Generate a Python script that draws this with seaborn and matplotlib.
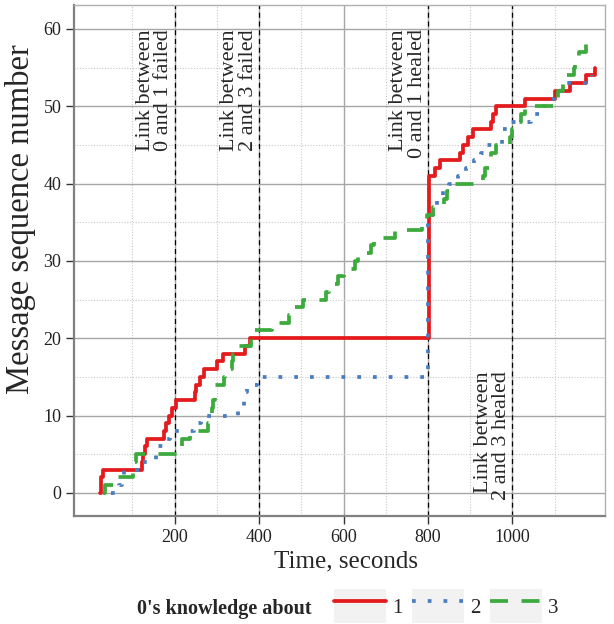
import numpy as np
import pandas as pd
import seaborn as sns
import matplotlib
matplotlib.use("Agg")
import matplotlib.pyplot as plt
from matplotlib.lines import Line2D
from matplotlib.patches import Patch
from matplotlib.ticker import FixedLocator

# ---- data ----
t1 = [24, 26, 30, 122, 125, 130, 134, 176, 180, 186, 193, 203, 248, 250, 260, 270, 300, 315, 367, 379,
      803, 817, 828, 876, 884, 895, 906, 948, 953, 961, 1030, 1100, 1135, 1175, 1195]
s1 = [0, 2, 3, 4, 5, 6, 7, 8, 9, 10, 11, 12, 13, 14, 15, 16, 17, 18, 19, 20,
      41, 42, 43, 44, 45, 46, 47, 48, 49, 50, 51, 52, 53, 54, 55]

t2 = [50, 68, 76, 80, 125, 155, 162, 175, 190, 245, 262, 350, 365, 370, 372, 395,
      799, 812, 822, 835, 850, 870, 890, 908, 925, 940, 975, 978, 990, 1045, 1062, 1080, 1098, 1115, 1188]
s2 = [0, 1, 2, 3, 4, 5, 6, 7, 8, 9, 10, 11, 12, 13, 14, 15,
      36, 37, 38, 39, 40, 41, 42, 43, 44, 45, 46, 47, 48, 49, 50, 51, 52, 53, 54]

t3 = [31, 36, 62, 102, 104, 108, 212, 218, 237, 280, 284, 288, 292, 296, 316, 320, 336, 339, 342, 380,
      390, 430, 470, 485, 505, 558, 566, 586, 600, 628, 634, 666, 672, 722, 785, 797,
      812, 838, 845, 860, 930, 935, 945, 950, 960, 994, 1000, 1010, 1020, 1030, 1100, 1108, 1120,
      1124, 1146, 1148, 1158, 1175, 1178]
s3 = [0, 1, 2, 3, 4, 5, 6, 7, 8, 9, 10, 11, 12, 14, 15, 16, 17, 18, 19, 20,
      21, 22, 23, 24, 25, 26, 27, 28, 29, 30, 31, 32, 33, 34, 35, 36,
      37, 38, 39, 40, 41, 42, 43, 44, 45, 46, 47, 48, 49, 50, 51, 52, 53,
      54, 55, 56, 57, 58, 59]

series_names = ["1", "2", "3"]
colors = ["#E41A1C", "#4A7DBF", "#3DAA3D"]

events = [200, 400, 800, 1000]
event_labels = ["Link between\n0 and 1 failed", "Link between\n2 and 3 failed",
                "Link between\n0 and 1 healed", "Link between\n2 and 3 healed"]

x_ticks = [200, 400, 600, 800, 1000]
y_ticks = [0, 10, 20, 30, 40, 50, 60]

df = pd.concat([
    pd.DataFrame({"time": t1, "seq": s1, "series": "1"}),
    pd.DataFrame({"time": t2, "seq": s2, "series": "2"}),
    pd.DataFrame({"time": t3, "seq": s3, "series": "3"}),
], ignore_index=True)

# ---- style ----
sns.set_theme(style="white")
plt.rcParams["font.family"] = ["Liberation Serif", "DejaVu Serif"]

fig = plt.figure(figsize=(6.14, 6.24), dpi=100)
ax = fig.add_axes([74 / 614, 1 - 516 / 624, (605 - 74) / 614, (516 - 5) / 624])

lw = 2.7
dashes = {"1": "", "2": (1.0, 3.2), "3": (4.8, 3.6)}
sns.lineplot(data=df, x="time", y="seq", hue="series", style="series",
             palette=dict(zip(series_names, colors)), dashes=dashes,
             drawstyle="steps-post", estimator=None, sort=False,
             linewidth=lw, legend=False, ax=ax, zorder=3)

for e in events:
    ax.axvline(e, color="black", lw=0.9, ls=(0, (4, 3)), zorder=2)

for e, lab in zip(events[:3], event_labels[:3]):
    ax.text(e - 3, 60.0, lab, rotation=90, ha="right", va="top",
            fontsize=16, linespacing=0.95, zorder=4)
ax.text(events[3] - 3, -0.9, event_labels[3], rotation=90, ha="right", va="bottom",
        fontsize=16, linespacing=0.95, zorder=4)

ax.set_xlim(-38, 1219)
ax.set_ylim(-3.0, 63.1)
ax.xaxis.set_major_locator(FixedLocator(x_ticks))
ax.xaxis.set_minor_locator(FixedLocator([100, 300, 500, 700, 900, 1100]))
ax.yaxis.set_major_locator(FixedLocator(y_ticks))
ax.yaxis.set_minor_locator(FixedLocator([5, 15, 25, 35, 45, 55]))
ax.grid(which="major", color="#A6A6A6", lw=1.0, ls="-", zorder=0)
ax.grid(which="minor", color="#C8C8C8", lw=0.8, ls=(0, (1, 1.5)), zorder=0)
ax.set_axisbelow(True)

for side in ["left", "bottom"]:
    ax.spines[side].set_color("#808080")
    ax.spines[side].set_linewidth(1.6)
for side in ["top", "right"]:
    ax.spines[side].set_color("#B0B0B0")
    ax.spines[side].set_linewidth(1.0)

ax.tick_params(axis="both", which="major", direction="out", length=6, width=1.0,
               color="#333333", labelsize=13, labelcolor="#222222", pad=3,
               bottom=True, left=True)
ax.tick_params(axis="both", which="minor", length=0)

ax.set_xlabel("Time, seconds", fontsize=18)
ax.set_ylabel("Message sequence number", fontsize=23.5)
ax.xaxis.set_label_coords((346 - 74) / 531, -0.068)
ax.yaxis.set_label_coords(-0.072, (516 - 219) / 511)

# ---- legend ----
handles = []
for name, c in zip(series_names, colors):
    bg = Patch(facecolor="#F2F2F2", edgecolor="none")
    ln = Line2D([], [], color=c, lw=lw)
    if dashes[name]:
        ln.set_dashes(dashes[name])
    handles.append((bg, ln))
fig.text(137 / 614, 1 - 609 / 624, "0's knowledge about", fontsize=14.5, fontweight="bold",
         ha="left", va="center")
fig.legend(handles=handles, labels=series_names, ncol=3, loc="center left",
           bbox_to_anchor=(319 / 614, 1 - 606 / 624), frameon=False, fontsize=15,
           handlelength=2.5, handleheight=2.1, handletextpad=0.3, columnspacing=0.45,
           borderpad=0.2)

fig.savefig("out.png", dpi=100)
